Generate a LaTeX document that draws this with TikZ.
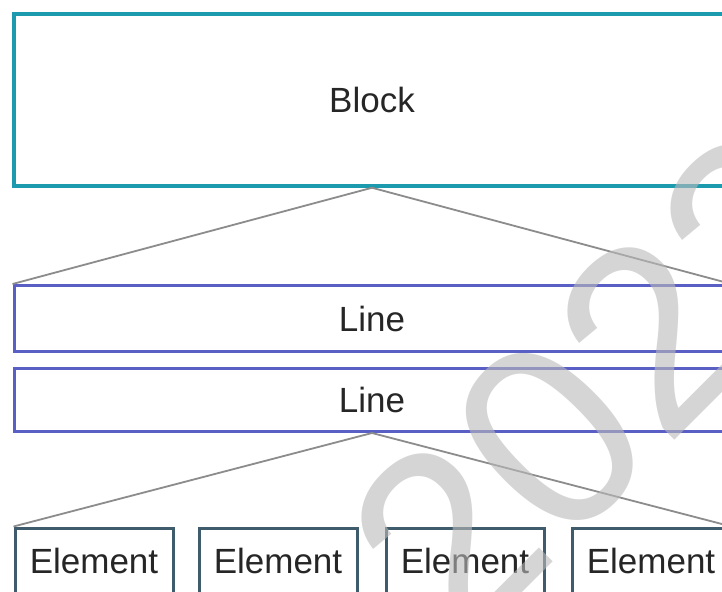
\documentclass[tikz,border=0pt]{standalone}
\usepackage{fontspec}
\setmainfont{Liberation Sans}
\definecolor{blockcol}{HTML}{1C9BAE}
\definecolor{linecol}{HTML}{5A5FC6}
\definecolor{elemcol}{HTML}{3E5C6C}
\definecolor{conncol}{HTML}{8C8C8C}
\begin{document}
\begin{tikzpicture}[x=1pt,y=-1pt,
  box/.style={draw, rectangle, inner sep=0pt, text height=25pt, text depth=0pt,
    font=\fontsize{35}{40}\selectfont, text=black!85},
  blockbox/.style={box, draw=blockcol, line width=3.5pt, minimum width=716pt, minimum height=172pt},
  linebox/.style={box, draw=linecol, line width=3pt, minimum width=716pt},
  elembox/.style={box, draw=elemcol, line width=3pt, minimum width=158pt, minimum height=66pt},
  conn/.style={draw=conncol, line width=1.8pt},
  watermark/.style={font=\fontsize{262}{270}\selectfont, text=black!27, text opacity=0.6, inner sep=0pt}]
  \useasboundingbox (0,0) rectangle (722,591);
  \clip (0,0) rectangle (722,591);
  \fill[white] (0,0) rectangle (722,591);

  % hierarchy boxes
  \node[blockbox] (block) at (372,100) {Block};
  \node[linebox, minimum height=66pt] (line1) at (372,318.5) {Line};
  \node[linebox, minimum height=63pt] (line2) at (372,400) {Line};
  \node[elembox] (e1) at (94,561) {Element};
  \node[elembox] (e2) at (278,561) {Element};
  \node[elembox] (e3) at (465,561) {Element};
  \node[elembox] (e4) at (651,561) {Element};

  % fan-out connectors
  \draw[conn] (block.south) -- (line1.north west);
  \draw[conn] (block.south) -- (line1.north east);
  \draw[conn] (line2.south) -- (e1.north west);
  \draw[conn] (line2.south) -- (e4.north east);

  % year watermark over the drawing
  \node[watermark, rotate=45] (wm) at (602,386) {2022};
\end{tikzpicture}
\end{document}
